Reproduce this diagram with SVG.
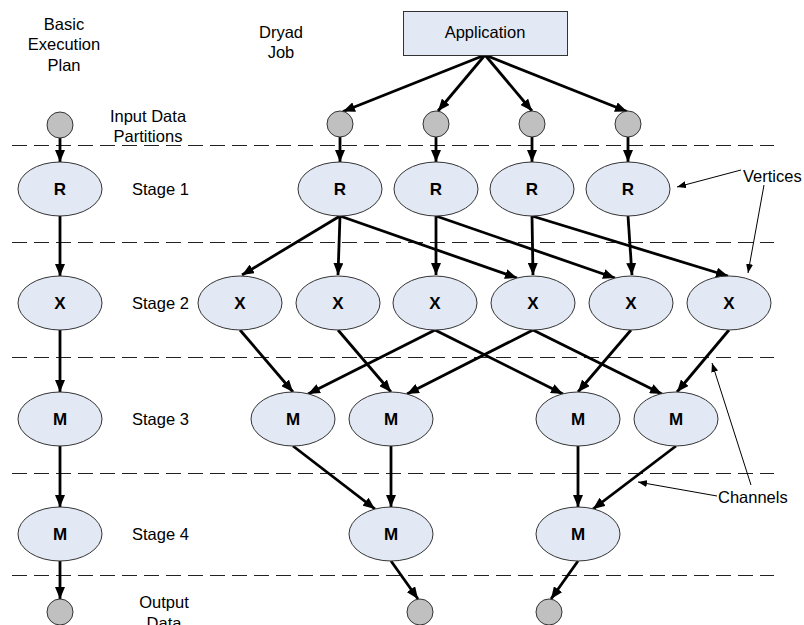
<svg xmlns="http://www.w3.org/2000/svg" width="804" height="625" viewBox="0 0 804 625">
  <style>
    .lbl { font-family: "Liberation Sans", Arial, sans-serif; font-size: 16.5px; fill: #000; }
    .mid { text-anchor: middle; }
    .v { fill: #e2e9f5; stroke: #333; stroke-width: 1; }
    .d { fill: #c0c0c0; stroke: #333; stroke-width: 1; }
    .vt { font-family: "Liberation Sans", Arial, sans-serif; font-size: 17px; font-weight: bold; text-anchor: middle; fill: #000; }
    .sep { stroke: #222; stroke-width: 1; stroke-dasharray: 15 7; fill: none; }
    .c { stroke: #000; stroke-width: 2.8; fill: none; marker-end: url(#ah); }
    .n { stroke: #000; stroke-width: 1; fill: none; marker-end: url(#ahs); }
  </style>
  <defs>
    <marker id="ah" markerWidth="12" markerHeight="10" refX="12" refY="5" orient="auto" markerUnits="userSpaceOnUse">
      <path d="M0,0 L12,5 L0,10 z" fill="#000"/>
    </marker>
    <marker id="ahs" markerWidth="9" markerHeight="7" refX="9" refY="3.5" orient="auto" markerUnits="userSpaceOnUse">
      <path d="M0,0 L9,3.5 L0,7 z" fill="#000"/>
    </marker>
  </defs>
  <rect width="804" height="625" fill="#fff"/>

  <!-- stage separators -->
  <g id="separators">
    <line class="sep" x1="12" y1="145.5" x2="774" y2="145.5"/>
    <line class="sep" x1="12" y1="242.5" x2="774" y2="242.5"/>
    <line class="sep" x1="12" y1="357.5" x2="774" y2="357.5"/>
    <line class="sep" x1="12" y1="473.5" x2="774" y2="473.5"/>
    <line class="sep" x1="12" y1="575.5" x2="774" y2="575.5"/>
  </g>

  <!-- channels -->
  <g id="connectors">
    <!-- basic execution plan -->
    <line class="c" x1="60" y1="138" x2="60" y2="162"/>
    <line class="c" x1="60" y1="216" x2="60" y2="276"/>
    <line class="c" x1="60" y1="330" x2="60" y2="392"/>
    <line class="c" x1="60" y1="446" x2="60" y2="507"/>
    <line class="c" x1="60" y1="561" x2="60" y2="599"/>
    <!-- application to inputs -->
    <line class="c" x1="485" y1="55" x2="343" y2="111.5"/>
    <line class="c" x1="485" y1="55" x2="438" y2="111"/>
    <line class="c" x1="485" y1="55" x2="532" y2="111"/>
    <line class="c" x1="485" y1="55" x2="627" y2="111.5"/>
    <!-- inputs to R -->
    <line class="c" x1="340" y1="137" x2="340" y2="162"/>
    <line class="c" x1="436" y1="137" x2="436" y2="162"/>
    <line class="c" x1="532" y1="137" x2="532" y2="162"/>
    <line class="c" x1="628" y1="137" x2="628" y2="162"/>
    <!-- R to X -->
    <line class="c" x1="340" y1="216" x2="242" y2="275"/>
    <line class="c" x1="340" y1="216" x2="338" y2="275"/>
    <line class="c" x1="340" y1="216" x2="517" y2="278"/>
    <line class="c" x1="436" y1="216" x2="436" y2="275"/>
    <line class="c" x1="436" y1="216" x2="615" y2="278"/>
    <line class="c" x1="532" y1="216" x2="533" y2="275"/>
    <line class="c" x1="532" y1="216" x2="728" y2="276"/>
    <line class="c" x1="628" y1="216" x2="632" y2="275"/>
    <!-- X to M -->
    <line class="c" x1="240" y1="330" x2="293" y2="392"/>
    <line class="c" x1="338" y1="330" x2="391" y2="392"/>
    <line class="c" x1="435" y1="330" x2="308" y2="394"/>
    <line class="c" x1="435" y1="330" x2="563" y2="394"/>
    <line class="c" x1="533" y1="330" x2="407" y2="394"/>
    <line class="c" x1="533" y1="330" x2="662" y2="394"/>
    <line class="c" x1="631" y1="330" x2="578" y2="392"/>
    <line class="c" x1="729" y1="330" x2="677" y2="392"/>
    <!-- M to M -->
    <line class="c" x1="293" y1="446" x2="375" y2="509"/>
    <line class="c" x1="391" y1="446" x2="391" y2="507"/>
    <line class="c" x1="578" y1="446" x2="578" y2="507"/>
    <line class="c" x1="676" y1="446" x2="593" y2="509"/>
    <!-- M to outputs -->
    <line class="c" x1="391" y1="561" x2="418" y2="599"/>
    <line class="c" x1="578" y1="561" x2="551" y2="599"/>
    <!-- callout pointers -->
    <line class="n" x1="741" y1="170" x2="677" y2="187"/>
    <line class="n" x1="764" y1="185" x2="748" y2="273"/>
    <line class="n" x1="751" y1="485" x2="712" y2="363"/>
    <line class="n" x1="717" y1="496" x2="638" y2="482"/>
  </g>

  <!-- application -->
  <g id="application">
    <rect x="403.5" y="11.5" width="164" height="44" fill="#e2e9f5" stroke="#333" stroke-width="1"/>
    <text class="lbl mid" x="485" y="37.5">Application</text>
  </g>

  <!-- basic execution plan column -->
  <g id="plan-in"><circle class="d" cx="60" cy="125" r="13"/></g>
  <g id="plan-r"><ellipse class="v" cx="60" cy="189" rx="42" ry="27"/><text class="vt" x="60" y="195">R</text></g>
  <g id="plan-x"><ellipse class="v" cx="60" cy="303" rx="42" ry="27"/><text class="vt" x="60" y="309">X</text></g>
  <g id="plan-m3"><ellipse class="v" cx="60" cy="419" rx="42" ry="27"/><text class="vt" x="60" y="425">M</text></g>
  <g id="plan-m4"><ellipse class="v" cx="60" cy="534" rx="42" ry="27"/><text class="vt" x="60" y="540">M</text></g>
  <g id="plan-out"><circle class="d" cx="60" cy="612" r="13"/></g>

  <!-- input partitions -->
  <g id="in1"><circle class="d" cx="340" cy="124" r="13"/></g>
  <g id="in2"><circle class="d" cx="436" cy="124" r="13"/></g>
  <g id="in3"><circle class="d" cx="532" cy="124" r="13"/></g>
  <g id="in4"><circle class="d" cx="628" cy="124" r="13"/></g>

  <!-- stage 1 -->
  <g id="r1"><ellipse class="v" cx="340" cy="189" rx="42" ry="27"/><text class="vt" x="340" y="195">R</text></g>
  <g id="r2"><ellipse class="v" cx="436" cy="189" rx="42" ry="27"/><text class="vt" x="436" y="195">R</text></g>
  <g id="r3"><ellipse class="v" cx="532" cy="189" rx="42" ry="27"/><text class="vt" x="532" y="195">R</text></g>
  <g id="r4"><ellipse class="v" cx="628" cy="189" rx="42" ry="27"/><text class="vt" x="628" y="195">R</text></g>

  <!-- stage 2 -->
  <g id="x1"><ellipse class="v" cx="240" cy="303" rx="42" ry="27"/><text class="vt" x="240" y="309">X</text></g>
  <g id="x2"><ellipse class="v" cx="338" cy="303" rx="42" ry="27"/><text class="vt" x="338" y="309">X</text></g>
  <g id="x3"><ellipse class="v" cx="435" cy="303" rx="42" ry="27"/><text class="vt" x="435" y="309">X</text></g>
  <g id="x4"><ellipse class="v" cx="533" cy="303" rx="42" ry="27"/><text class="vt" x="533" y="309">X</text></g>
  <g id="x5"><ellipse class="v" cx="631" cy="303" rx="42" ry="27"/><text class="vt" x="631" y="309">X</text></g>
  <g id="x6"><ellipse class="v" cx="729" cy="303" rx="42" ry="27"/><text class="vt" x="729" y="309">X</text></g>

  <!-- stage 3 -->
  <g id="m1"><ellipse class="v" cx="293" cy="419" rx="42" ry="27"/><text class="vt" x="293" y="425">M</text></g>
  <g id="m2"><ellipse class="v" cx="391" cy="419" rx="42" ry="27"/><text class="vt" x="391" y="425">M</text></g>
  <g id="m3"><ellipse class="v" cx="578" cy="419" rx="42" ry="27"/><text class="vt" x="578" y="425">M</text></g>
  <g id="m4"><ellipse class="v" cx="676" cy="419" rx="42" ry="27"/><text class="vt" x="676" y="425">M</text></g>

  <!-- stage 4 -->
  <g id="ma"><ellipse class="v" cx="391" cy="534" rx="42" ry="27"/><text class="vt" x="391" y="540">M</text></g>
  <g id="mb"><ellipse class="v" cx="578" cy="534" rx="42" ry="27"/><text class="vt" x="578" y="540">M</text></g>

  <!-- outputs -->
  <g id="out1"><circle class="d" cx="420" cy="612" r="13"/></g>
  <g id="out2"><circle class="d" cx="549" cy="612" r="13"/></g>

  <!-- labels -->
  <g id="labels">
    <text class="lbl mid" x="64" y="29.5">Basic</text>
    <text class="lbl mid" x="64" y="50">Execution</text>
    <text class="lbl mid" x="64" y="71">Plan</text>
    <text class="lbl mid" x="281" y="38">Dryad</text>
    <text class="lbl mid" x="281" y="58">Job</text>
    <text class="lbl mid" x="148" y="122">Input Data</text>
    <text class="lbl mid" x="148" y="142">Partitions</text>
    <text class="lbl" x="132" y="195">Stage 1</text>
    <text class="lbl" x="132" y="309">Stage 2</text>
    <text class="lbl" x="132" y="425">Stage 3</text>
    <text class="lbl" x="132" y="540">Stage 4</text>
    <text class="lbl mid" x="164" y="608">Output</text>
    <text class="lbl mid" x="164" y="629">Data</text>
    <text class="lbl" x="743" y="182">Vertices</text>
    <text class="lbl" x="718" y="503">Channels</text>
  </g>
</svg>
